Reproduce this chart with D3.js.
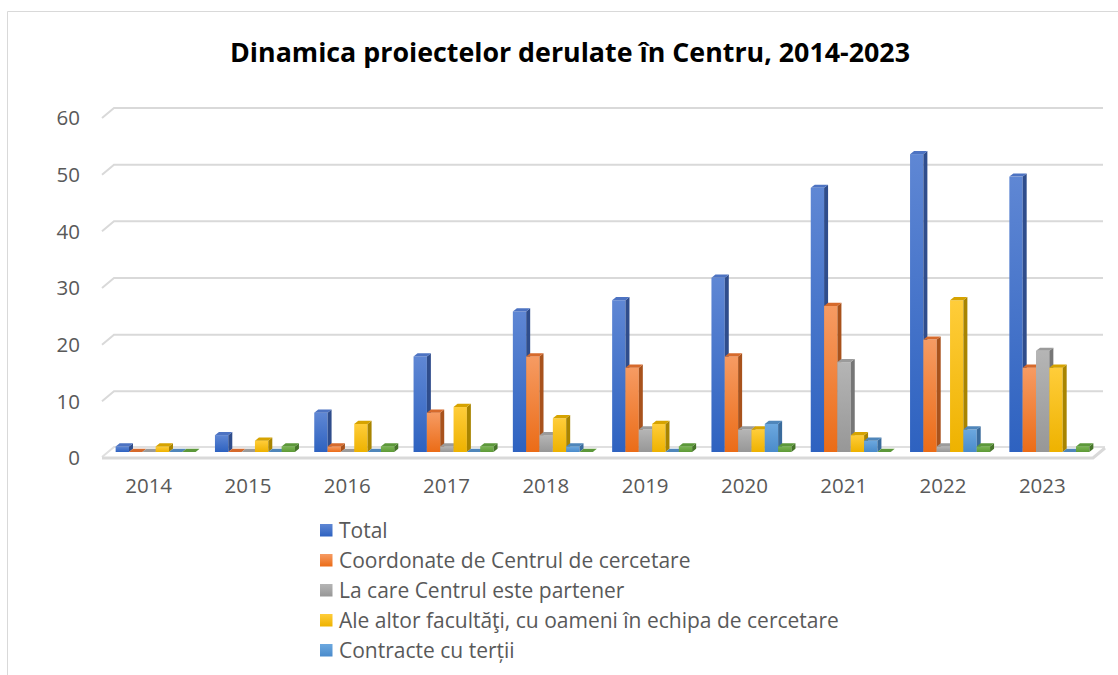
<!DOCTYPE html>
<html><head><meta charset="utf-8">
<script src="https://cdn.jsdelivr.net/npm/d3@7"></script>
<style>html,body{margin:0;padding:0;background:#fff}svg{display:block}</style>
</head><body>
<svg id="chart" width="1118" height="675"></svg>
<script>
const years = ["2014","2015","2016","2017","2018","2019","2020","2021","2022","2023"];
const seriesNames = ["Total","Coordonate de Centrul de cercetare","La care Centrul este partener","Ale altor facultăţi, cu oameni în echipa de cercetare","Contracte cu terții","Alte"];
const totalVals      = [1,3,7,17,25,27,31,47,53,49];
const coordVals      = [0,0,1,7,17,15,17,26,20,15];
const partenerVals   = [0,0,0,1,3,4,4,16,1,18];
const facultatiVals  = [1,2,5,8,6,5,4,3,27,15];
const contracteVals  = [0,0,0,0,1,0,5,2,4,0];
const alteVals       = [0,1,1,1,0,1,1,0,1,1];
const yTicks = [0,10,20,30,40,50,60];
const legendCount = 5;
const title = "Dinamica proiectelor derulate în Centru, 2014-2023";

const seriesValues = [totalVals, coordVals, partenerVals, facultatiVals, contracteVals, alteVals];
const palette = [
  {top:"#5f87d4", bot:"#2e62c0", side:"#2f4d8c", cap:"#4d73c2", leg:"#4472c4"},
  {top:"#f69b63", bot:"#eb6c17", side:"#a8521c", cap:"#d66a2c", leg:"#ed7d31"},
  {top:"#b5b5b5", bot:"#979797", side:"#767676", cap:"#9b9b9b", leg:"#a5a5a5"},
  {top:"#ffcd3a", bot:"#eeb200", side:"#a88400", cap:"#d6a300", leg:"#ffc000"},
  {top:"#6ca8df", bot:"#4a8bcb", side:"#3a6b9c", cap:"#4f86ba", leg:"#5b9bd5"},
  {top:"#7ab652", bot:"#5e9a38", side:"#46752a", cap:"#5c983a", leg:"#70ad47"}
];

const svg = d3.select("#chart");
const defs = svg.append("defs");
palette.forEach((p,i)=>{
  const g = defs.append("linearGradient").attr("id","g"+i).attr("x1",0).attr("y1",0).attr("x2",0).attr("y2",1);
  g.append("stop").attr("offset","0%").attr("stop-color",p.top);
  g.append("stop").attr("offset","100%").attr("stop-color",p.bot);
});

// frame
svg.append("path").attr("d","M7.5,675 V11.5 H1118").attr("fill","none").attr("stroke","#d9d9d9").attr("stroke-width",1);

// title
svg.append("text").attr("x",570).attr("y",62).attr("text-anchor","middle")
  .attr("font-family","'Open Sans', sans-serif").attr("font-weight","bold").attr("font-size",26.8)
  .attr("fill","#000").text(title);

const frontLeft = 102, frontRight = 1093, depthX = 12, depthY = 10;
const yBack = d3.scaleLinear().domain([0,60]).range([448,108]);
const yBar  = d3.scaleLinear().domain([0,60]).range([452,114.8]);
const x = d3.scaleBand().domain(years).range([99,1092]).padding(0);
const groupW = 80;
const inner = d3.scaleBand().domain(d3.range(seriesNames.length)).range([0,groupW]);
const sdx = 4, sdy = 3.2;

// gridlines
const grid = svg.append("g").attr("stroke","#d9d9d9").attr("stroke-width",2).attr("fill","none");
yTicks.forEach(t=>{
  if (t===0) return;
  const yb = yBack(t);
  grid.append("path").attr("d",`M${frontLeft},${yb+depthY} L${frontLeft+depthX},${yb} H${frontRight+depthX-2}`);
});
// floor
const yb0 = yBack(0);
svg.append("path").attr("d",`M${frontLeft},${yb0+depthY-1} L${frontLeft+depthX},${yb0-1} H${frontRight+depthX}`)
  .attr("fill","none").attr("stroke","#e0e0e0").attr("stroke-width",2);
svg.append("path").attr("d",`M${frontLeft},${yb0+depthY} H${frontRight} L${frontRight+depthX},${yb0}`)
  .attr("fill","none").attr("stroke","#d9d9d9").attr("stroke-width",3);

// y labels
svg.append("g").selectAll("text").data(yTicks).join("text")
  .attr("x",80).attr("y",d=>yBack(d)+depthY).attr("dy","0.36em").attr("text-anchor","end")
  .attr("font-family","'Open Sans', sans-serif").attr("font-size",20.5).attr("fill","#595959").text(d=>d);

// x labels
svg.append("g").selectAll("text").data(years).join("text")
  .attr("x",d=>x(d)+x.bandwidth()/2).attr("y",486).attr("dy","0.36em").attr("text-anchor","middle")
  .attr("font-family","'Open Sans', sans-serif").attr("font-size",20.5).attr("fill","#595959").text(d=>d);

// bars
const bars = svg.append("g");
years.forEach((yr,yi)=>{
  const gx = x(yr) + (x.bandwidth()-groupW)/2 + 7;
  seriesValues.forEach((vals,si)=>{
    const v = vals[yi];
    const p = palette[si];
    const x0 = gx + inner(si), w = inner.bandwidth();
    const yt = yBar(v), y0 = yBar(0);
    const g = bars.append("g");
    if (v > 0) {
      g.append("rect").attr("x",x0).attr("y",yt).attr("width",w).attr("height",y0-yt).attr("fill",`url(#g${si})`);
      g.append("path").attr("d",`M${x0+w},${yt} L${x0+w+sdx},${yt-sdy} L${x0+w+sdx},${y0-sdy} L${x0+w},${y0} Z`).attr("fill",p.side);
    }
    g.append("path").attr("d",`M${x0},${yt} L${x0+sdx},${yt-sdy} L${x0+w+sdx},${yt-sdy} L${x0+w},${yt} Z`).attr("fill",p.cap);
  });
});

// legend
const leg = svg.append("g");
seriesNames.slice(0,legendCount).forEach((n,i)=>{
  const cy = 530 + i*30;
  leg.append("rect").attr("x",320).attr("y",cy-6).attr("width",12.5).attr("height",12.5).attr("fill",`url(#g${i})`);
  leg.append("text").attr("x",339).attr("y",cy).attr("dy","0.36em")
    .attr("font-family","'Open Sans', sans-serif").attr("font-size",21).attr("fill","#595959").text(n);
});
</script>
</body></html>
